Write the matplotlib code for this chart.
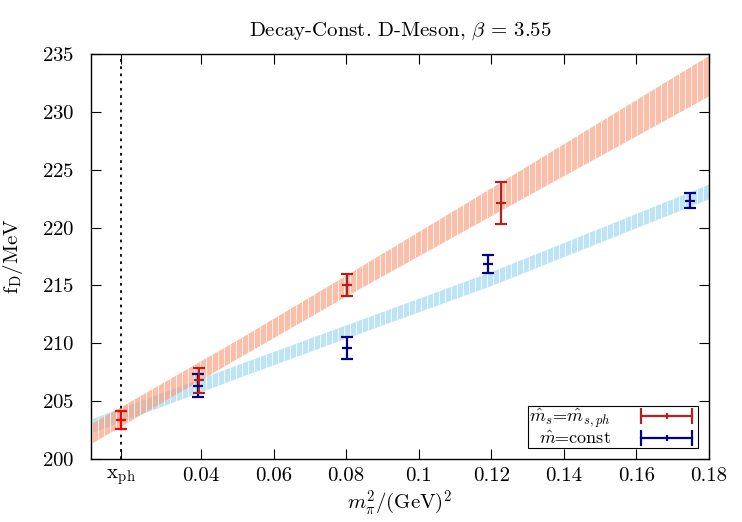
import numpy as np
import matplotlib
matplotlib.use('Agg')
import matplotlib.pyplot as plt
from matplotlib.lines import Line2D
from matplotlib.legend_handler import HandlerLine2D, HandlerTuple

plt.rcParams['font.family'] = 'serif'
plt.rcParams['font.serif'] = ['cmr10']
plt.rcParams['mathtext.fontset'] = 'cm'
plt.rcParams['axes.formatter.use_mathtext'] = True

# physikalischer Punkt
x_ph = 0.018
phys_x = [0.018]
phys_y = [203.35]
phys_err = [0.8]

# m_s = m_s,ph
red_x = [0.0395, 0.0802, 0.1227]
red_y = [206.8, 215.0, 222.1]
red_err = [1.1, 0.95, 1.8]

# m = const
blue_x = [0.0393, 0.0802, 0.1191, 0.1748]
blue_y = [206.35, 209.55, 216.85, 222.3]
blue_err = [1.0, 0.95, 0.75, 0.65]

# Fit-Baender (untere / obere Kante)
band_x = [0.01, 0.05, 0.08, 0.12, 0.18]
red_lo = [201.4, 208.7, 214.1, 221.05, 231.4]
red_hi = [203.1, 210.3, 215.9, 223.45, 234.9]
blue_lo = [202.3, 207.0, 210.45, 215.0, 222.5]
blue_hi = [203.5, 208.15, 211.6, 216.2, 223.77]

xtick_pos = [x_ph, 0.04, 0.06, 0.08, 0.10, 0.12, 0.14, 0.16, 0.18]
xtick_lab = [r'x$_{\mathrm{ph}}$', '0.04', '0.06', '0.08', '0.1', '0.12', '0.14', '0.16', '0.18']
ytick_pos = [200, 205, 210, 215, 220, 225, 230, 235]

c_red = '#B22222'
c_phys = '#FF0000'
c_blue = '#00008B'


def draw_band(ax, lo, hi, color, alpha, z):
    xs = np.linspace(band_x[0], band_x[-1], 400)
    ylo = np.interp(xs, band_x, lo)
    yhi = np.interp(xs, band_x, hi)
    ax.fill_between(xs, ylo, yhi, color=color, alpha=alpha, lw=0, zorder=z)
    # weisse Streifen wie im Original
    xg = np.arange(band_x[0], band_x[-1], 0.00165)
    ax.vlines(xg, np.interp(xg, band_x, lo), np.interp(xg, band_x, hi),
              color='white', lw=0.7, alpha=0.8, zorder=z + 0.1)


fig = plt.figure(figsize=(7.42, 5.22), dpi=100)
ax = fig.add_axes([0.1226, 0.1207, 0.833, 0.7759])

draw_band(ax, blue_lo, blue_hi, '#87CEEB', 0.55, 1)
draw_band(ax, red_lo, red_hi, '#FA9B7A', 0.65, 2)

ax.axvline(x_ph, color='black', ls=(0, (1.5, 2.5)), lw=1.3, zorder=3)

eb = dict(fmt='_', capsize=4.5, elinewidth=1.6, capthick=1.6, ms=7, mew=1.6, zorder=5)
ax.errorbar(blue_x, blue_y, yerr=blue_err, color=c_blue, **eb)
ax.errorbar(red_x, red_y, yerr=red_err, color=c_red, **eb)
ax.errorbar(phys_x, phys_y, yerr=phys_err, color=c_phys, **eb)

ax.set_xlim(0.0097, 0.18)
ax.set_ylim(200, 235)
ax.set_xticks(xtick_pos)
ax.set_xticklabels(xtick_lab)
ax.set_yticks(ytick_pos)
ax.tick_params(direction='in', length=7.5, width=0.8, labelsize=15, top=True, right=True)
ax.tick_params(axis='y', pad=12)
ax.tick_params(axis='x', pad=6)
for s in ax.spines.values():
    s.set_linewidth(1.0)

ax.set_title(r'Decay-Const. D-Meson, $\beta$ = 3.55', fontsize=15, pad=13)
ax.set_xlabel(r'$m_\pi^2/(\mathrm{GeV})^2$', fontsize=15, labelpad=1)
ax.set_ylabel(r'f$_{\mathrm{D}}$/MeV', fontsize=15, labelpad=12)

# Legende mit horizontalem Fehlerbalken-Symbol
h_red = Line2D([], [], color=c_red, lw=1.6, marker='|', ms=11, mew=1.6)
m_red = Line2D([], [], color=c_red, ls='none', marker='|', ms=5, mew=1.6)
h_blue = Line2D([], [], color=c_blue, lw=1.6, marker='|', ms=11, mew=1.6)
m_blue = Line2D([], [], color=c_blue, ls='none', marker='|', ms=5, mew=1.6)
hmap = {h_red: HandlerLine2D(numpoints=2), m_red: HandlerLine2D(numpoints=1),
        h_blue: HandlerLine2D(numpoints=2), m_blue: HandlerLine2D(numpoints=1),
        tuple: HandlerTuple(ndivide=1)}
leg = ax.legend([(h_red, m_red), (h_blue, m_blue)],
                [r'$\hat{m}_s$=$\hat{m}_{s,ph}$', r'$\hat{m}$=const'],
                handler_map=hmap, loc='lower right', markerfirst=False,
                fontsize=13, handlelength=3.4, handletextpad=1.4, labelspacing=0.0,
                borderpad=0.05, borderaxespad=0.6, fancybox=False, framealpha=1,
                edgecolor='black')
leg.get_frame().set_linewidth(0.8)
leg.set_zorder(6)

fig.savefig('out.png', dpi=100)
